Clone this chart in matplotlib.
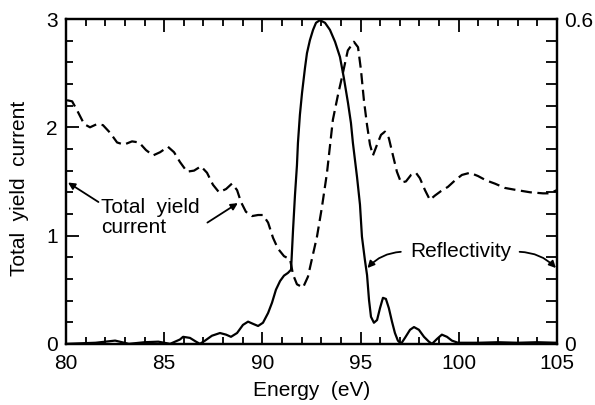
import matplotlib
matplotlib.use("Agg")
import matplotlib.pyplot as plt
from matplotlib.ticker import MultipleLocator, FixedLocator, FixedFormatter

plt.rcParams['font.family'] = ['Liberation Sans', 'DejaVu Sans']

# total yield current (left axis)
yield_e = [80.05, 80.31, 80.61, 80.92, 81.22, 81.58, 81.88, 82.24, 82.60, 82.95,
           83.36, 83.72, 84.07, 84.43, 84.79, 85.19, 85.50, 85.80, 86.16, 86.52,
           86.87, 87.18, 87.48, 87.79, 88.15, 88.45, 88.71, 88.91, 89.16, 89.47,
           89.78, 90.03, 90.29, 90.54, 90.79, 91.10, 91.41, 91.56, 91.76, 92.07,
           92.32, 92.53, 92.78, 93.03, 93.29, 93.59, 93.85, 94.05, 94.35, 94.66,
           94.87, 95.02, 95.17, 95.33, 95.48, 95.63, 95.84, 96.04, 96.24, 96.44,
           96.65, 96.85, 97.06, 97.31, 97.57, 97.82, 98.02, 98.28, 98.53, 98.79,
           99.09, 99.45, 99.81, 100.16, 100.57, 100.98, 101.39, 101.84, 102.35, 102.96,
           103.63, 104.29, 104.64, 105.0]
yield_v = [2.25, 2.24, 2.14, 2.03, 2.00, 2.03, 2.02, 1.95, 1.86, 1.84,
           1.87, 1.86, 1.79, 1.74, 1.77, 1.82, 1.77, 1.68, 1.59, 1.60,
           1.64, 1.58, 1.47, 1.40, 1.43, 1.48, 1.42, 1.31, 1.22, 1.18,
           1.19, 1.19, 1.12, 0.98, 0.88, 0.81, 0.78, 0.64, 0.55, 0.52,
           0.62, 0.79, 0.99, 1.26, 1.58, 2.07, 2.30, 2.46, 2.71, 2.79,
           2.74, 2.53, 2.25, 2.02, 1.84, 1.74, 1.84, 1.93, 1.96, 1.90,
           1.74, 1.59, 1.49, 1.50, 1.56, 1.58, 1.53, 1.42, 1.33, 1.37,
           1.41, 1.45, 1.51, 1.56, 1.58, 1.55, 1.51, 1.48, 1.44, 1.42,
           1.40, 1.39, 1.39, 1.42]

# reflectivity (right axis)
refl_e = [80.0, 81.5, 82.5, 83.2, 84.0, 84.7, 85.3, 85.8, 85.96, 86.31,
          86.62, 86.82, 87.08, 87.43, 87.84, 88.15, 88.40, 88.71, 89.01, 89.27,
          89.52, 89.78, 90.03, 90.29, 90.49, 90.69, 90.90, 91.10, 91.30, 91.46,
          91.56, 91.66, 91.76, 91.81, 91.91, 92.02, 92.17, 92.27, 92.42, 92.58,
          92.73, 92.93, 93.19, 93.44, 93.70, 93.95, 94.15, 94.36, 94.51, 94.61,
          94.82, 94.97, 95.07, 95.22, 95.33, 95.43, 95.53, 95.68, 95.84, 95.99,
          96.14, 96.29, 96.44, 96.60, 96.75, 96.90, 97.06, 97.26, 97.52, 97.72,
          97.97, 98.23, 98.48, 98.64, 98.89, 99.14, 99.40, 99.65, 99.96, 101.0,
          102.0, 103.0, 104.0, 105.0]
refl_v = [0.0, 0.002, 0.006, 0.0, 0.003, 0.004, 0.0, 0.008, 0.013, 0.011,
          0.004, 0.0, 0.006, 0.015, 0.020, 0.017, 0.013, 0.020, 0.035, 0.041,
          0.037, 0.033, 0.039, 0.057, 0.076, 0.100, 0.116, 0.126, 0.131, 0.137,
          0.21, 0.275, 0.33, 0.371, 0.423, 0.464, 0.510, 0.537, 0.561, 0.580,
          0.593, 0.598, 0.593, 0.580, 0.558, 0.530, 0.491, 0.445, 0.408, 0.371,
          0.308, 0.257, 0.198, 0.155, 0.127, 0.081, 0.050, 0.039, 0.044, 0.066,
          0.085, 0.083, 0.066, 0.041, 0.020, 0.006, 0.0, 0.011, 0.026, 0.031,
          0.026, 0.013, 0.004, 0.0, 0.009, 0.017, 0.013, 0.006, 0.002, 0.002,
          0.003, 0.002, 0.003, 0.002]

x_major = [80, 85, 90, 95, 100, 105]
left_major = [0, 1, 2, 3]
right_ticks = [i * 0.04 for i in range(16)]
right_labels = ['0'] + [''] * 14 + ['0.6']

fig = plt.figure(figsize=(5.95, 4.05), dpi=100)
ax = fig.add_axes([0.111, 0.151, 0.825, 0.802])
ax2 = ax.twinx()

ax.plot(yield_e, yield_v, color='black', lw=1.6, linestyle=(0, (5, 2.5)))
ax2.plot(refl_e, refl_v, color='black', lw=1.6)

ax.set_xlim(80, 105)
ax.set_ylim(0, 3)
ax2.set_ylim(0, 0.6)

ax.xaxis.set_major_locator(FixedLocator(x_major))
ax.xaxis.set_minor_locator(MultipleLocator(1))
ax.yaxis.set_major_locator(FixedLocator(left_major))
ax.yaxis.set_minor_locator(MultipleLocator(0.2))
ax2.yaxis.set_major_locator(FixedLocator(right_ticks))
ax2.yaxis.set_major_formatter(FixedFormatter(right_labels))

fs = 15
ax.tick_params(axis='x', which='both', direction='in', top=True, labelsize=fs, pad=7)
ax.tick_params(axis='y', which='both', direction='in', right=False, labelsize=fs, pad=6)
ax.tick_params(which='major', length=9, width=1.3)
ax.tick_params(which='minor', length=5, width=1.3)
ax2.tick_params(axis='y', direction='in', length=8, width=1.3, labelsize=fs, pad=5)

for a in (ax, ax2):
    for s in a.spines.values():
        s.set_linewidth(1.6)

ax.set_xlabel('Energy  (eV)', fontsize=fs, labelpad=6)
ax.set_ylabel('Total  yield  current', fontsize=fs)
ax.yaxis.set_label_coords(-0.075, 0.48)

ax.text(81.8, 1.17, 'Total  yield\ncurrent', fontsize=fs, ha='left', va='center',
        linespacing=1.05)
ax.annotate('', xy=(80.1, 1.49), xytext=(81.65, 1.31),
            arrowprops=dict(arrowstyle='-|>', color='black', lw=1.3,
                            mutation_scale=10, shrinkA=0, shrinkB=0))
ax.annotate('', xy=(88.75, 1.30), xytext=(87.2, 1.12),
            arrowprops=dict(arrowstyle='-|>', color='black', lw=1.3,
                            mutation_scale=10, shrinkA=0, shrinkB=0))
ax.text(100.1, 0.85, 'Reflectivity', fontsize=fs, ha='center', va='center')
ax.annotate('', xy=(95.35, 0.70), xytext=(97.05, 0.85),
            arrowprops=dict(arrowstyle='-|>', color='black', lw=1.3,
                            mutation_scale=10, shrinkA=0, shrinkB=0,
                            connectionstyle='arc3,rad=0.2'))
ax.annotate('', xy=(104.95, 0.70), xytext=(103.1, 0.85),
            arrowprops=dict(arrowstyle='-|>', color='black', lw=1.3,
                            mutation_scale=10, shrinkA=0, shrinkB=0,
                            connectionstyle='arc3,rad=-0.2'))

fig.savefig('out.png', dpi=100)
